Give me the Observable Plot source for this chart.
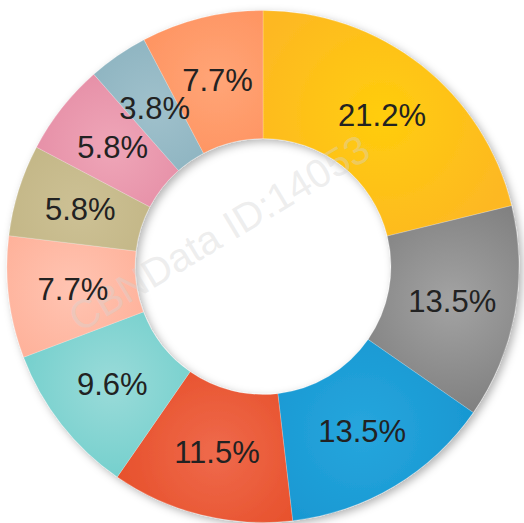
<!DOCTYPE html>
<html>
<head>
<meta charset="utf-8">
<script src="https://cdn.jsdelivr.net/npm/d3@7"></script>
<script src="https://cdn.jsdelivr.net/npm/@observablehq/plot@0.6"></script>
<style>
  html, body { margin: 0; padding: 0; background: #fff; }
  #chart { width: 524px; height: 523px; }
</style>
</head>
<body>
<div id="chart"></div>
<script>
// Slice values (percent), clockwise from 12 o'clock
const labels = ["21.2%", "13.5%", "13.5%", "11.5%", "9.6%", "7.7%", "5.8%", "5.8%", "3.8%", "7.7%"];
const values = [21.2, 13.5, 13.5, 11.5, 9.6, 7.7, 5.8, 5.8, 3.8, 7.7];
const lightColors = ["#ffcd0c", "#a3a3a3", "#27a6dd", "#ef6a4c", "#9adbd9", "#ffc4b2", "#cdc195", "#efa6b8", "#a0c1cc", "#ffa577"];
const darkColors  = ["#fdb823", "#777777", "#1494cf", "#e4471f", "#62cac7", "#fea489", "#bbae7b", "#df7e9a", "#7ea9b7", "#fe8852"];
// Watermark text
const watermarkText = "CBNData ID:14053";
const watermarkX = [-0.745];
const watermarkY = [-0.215];

const innerR = 0.5, outerR = 1;
const pie = d3.pie().sort(null).value(d => d.value);
const data = pie(values.map((v, i) => ({value: v, label: labels[i], i})));
const unitArc = d3.arc().innerRadius(innerR).outerRadius(outerR);
const labelData = data.map(d => {
  const [cx, cy] = unitArc.centroid(d);
  return {x: cx, y: -cy, label: d.data.label};
});
const watermarks = watermarkX.map((x, i) => ({x, y: watermarkY[i], text: watermarkText}));

function ringMark(index, scales) {
  const sx = scales.x, sy = scales.y;
  const cx = sx(0), cy = sy(0);
  const R = Math.abs(sx(1) - sx(0));
  const svgNS = "http://www.w3.org/2000/svg";
  const g = document.createElementNS(svgNS, "g");
  const defs = document.createElementNS(svgNS, "defs");
  const filt = document.createElementNS(svgNS, "filter");
  filt.setAttribute("id", "ringShadow");
  filt.setAttribute("x", "-20%"); filt.setAttribute("y", "-20%");
  filt.setAttribute("width", "140%"); filt.setAttribute("height", "140%");
  const ds = document.createElementNS(svgNS, "feDropShadow");
  ds.setAttribute("dx", "3"); ds.setAttribute("dy", "3");
  ds.setAttribute("stdDeviation", "4");
  ds.setAttribute("flood-color", "#000"); ds.setAttribute("flood-opacity", "0.3");
  filt.appendChild(ds);
  defs.appendChild(filt);
  const arc = d3.arc().innerRadius(innerR * R).outerRadius(outerR * R);
  data.forEach((d, i) => {
    const [mx, my] = arc.centroid(d);
    const grad = document.createElementNS(svgNS, "radialGradient");
    grad.setAttribute("id", "sliceGrad" + i);
    grad.setAttribute("gradientUnits", "userSpaceOnUse");
    grad.setAttribute("cx", mx); grad.setAttribute("cy", my);
    grad.setAttribute("r", R * 0.55);
    const s0 = document.createElementNS(svgNS, "stop");
    s0.setAttribute("offset", "0"); s0.setAttribute("stop-color", lightColors[i]);
    const s1 = document.createElementNS(svgNS, "stop");
    s1.setAttribute("offset", "1"); s1.setAttribute("stop-color", darkColors[i]);
    grad.appendChild(s0); grad.appendChild(s1);
    defs.appendChild(grad);
  });
  g.appendChild(defs);
  const ring = document.createElementNS(svgNS, "g");
  ring.setAttribute("transform", `translate(${cx},${cy})`);
  ring.setAttribute("filter", "url(#ringShadow)");
  data.forEach((d, i) => {
    const p = document.createElementNS(svgNS, "path");
    p.setAttribute("d", arc(d));
    p.setAttribute("fill", `url(#sliceGrad${i})`);
    p.setAttribute("stroke", "#ffffff");
    p.setAttribute("stroke-opacity", "0.35");
    p.setAttribute("stroke-width", "0.6");
    ring.appendChild(p);
  });
  g.appendChild(ring);
  return g;
}

const chart = Plot.plot({
  width: 524,
  height: 523,
  margin: 0,
  x: {domain: [-1, 1], range: [7, 519], axis: null},
  y: {domain: [-1, 1], range: [522.5, 10.5], axis: null},
  style: {background: "#fff", fontFamily: "'Liberation Sans', Arial, sans-serif"},
  marks: [
    ringMark,
    Plot.text(watermarks, {x: "x", y: "y", text: "text", rotate: -31, textAnchor: "start", fontSize: 40, fill: "#d4d4d4", fillOpacity: 0.4}),
    Plot.text(labelData, {x: "x", y: "y", text: "label", fontSize: 31, fill: "#222222", fontFamily: "'Liberation Sans', Arial, sans-serif"})
  ]
});
document.getElementById("chart").appendChild(chart);
</script>
</body>
</html>
